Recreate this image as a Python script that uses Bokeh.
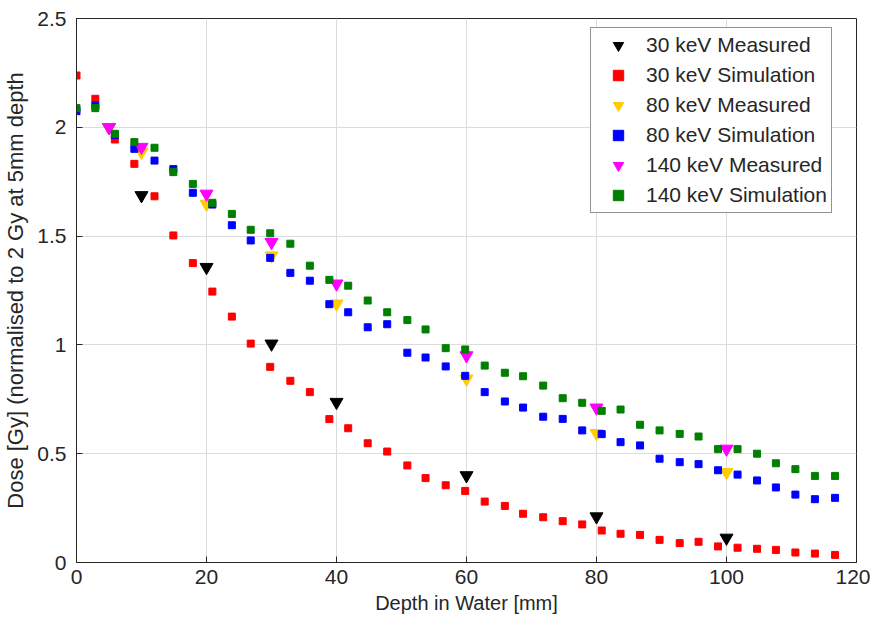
from bokeh.plotting import figure
from bokeh.models import Range1d, FixedTicker, Legend, LegendItem
from bokeh.embed import file_html
from bokeh.resources import INLINE

# ---- data ----
sim_depth = [0, 2.9, 5.9, 8.9, 12.0, 14.9, 17.9, 20.9, 23.9, 26.8,
             29.8, 32.9, 35.9, 38.9, 41.8, 44.8, 47.8, 50.9, 53.7, 56.8,
             59.8, 62.8, 65.9, 68.7, 71.8, 74.8, 77.8, 80.8, 83.7, 86.7,
             89.7, 92.8, 95.7, 98.7, 101.7, 104.7, 107.6, 110.6, 113.6, 116.7]

sim_30 = [2.238, 2.131, 1.944, 1.832, 1.683, 1.503, 1.376, 1.245, 1.130, 1.006,
          0.899, 0.835, 0.783, 0.659, 0.617, 0.548, 0.510, 0.446, 0.388, 0.355,
          0.329, 0.280, 0.260, 0.224, 0.208, 0.190, 0.175, 0.147, 0.132, 0.127,
          0.104, 0.089, 0.095, 0.074, 0.068, 0.063, 0.058, 0.046, 0.041, 0.035]

sim_80 = [2.074, 2.100, 1.965, 1.901, 1.847, 1.808, 1.699, 1.645, 1.550, 1.480,
          1.400, 1.331, 1.295, 1.187, 1.150, 1.081, 1.095, 0.964, 0.942, 0.901,
          0.858, 0.783, 0.740, 0.712, 0.670, 0.660, 0.607, 0.590, 0.553, 0.538,
          0.477, 0.461, 0.452, 0.424, 0.404, 0.377, 0.345, 0.312, 0.291, 0.297]

sim_140 = [2.088, 2.088, 1.970, 1.932, 1.906, 1.794, 1.740, 1.653, 1.602, 1.529,
           1.513, 1.465, 1.364, 1.299, 1.272, 1.204, 1.150, 1.114, 1.071, 0.985,
           0.979, 0.905, 0.872, 0.856, 0.813, 0.755, 0.734, 0.697, 0.703, 0.633,
           0.607, 0.591, 0.579, 0.521, 0.521, 0.500, 0.456, 0.429, 0.398, 0.398]

meas_depth = [5, 10, 20, 30, 40, 60, 80, 100]
meas_30 = [2.0, 1.687, 1.357, 1.005, 0.737, 0.400, 0.211, 0.113]
meas_80 = [2.0, 1.886, 1.648, 1.410, 1.189, 0.844, 0.594, 0.415]
meas_140 = [2.0, 1.909, 1.694, 1.472, 1.281, 0.951, 0.711, 0.522]

y_ticks = [0, 0.5, 1, 1.5, 2, 2.5]
y_tick_labels = ["0", "0.5", "1", "1.5", "2", "2.5"]
x_ticks = [0, 20, 40, 60, 80, 100, 120]

FONT = "Liberation Sans"
TXT = "#262626"

p = figure(width=870, height=624, output_backend="svg", toolbar_location=None,
           x_range=Range1d(0, 120), y_range=Range1d(0, 2.5),
           min_border_left=76, min_border_right=14, min_border_top=18,
           min_border_bottom=62,
           x_axis_label="Depth in Water [mm]",
           y_axis_label="Dose [Gy] (normalised to 2 Gy at 5mm depth")

p.background_fill_color = "white"
p.border_fill_color = "white"
p.outline_line_color = TXT
p.outline_line_width = 1

for ax in (p.xaxis[0], p.yaxis[0]):
    ax.axis_label_text_font = FONT
    ax.axis_label_text_font_style = "normal"
    ax.axis_label_text_color = TXT
    ax.major_label_text_font = FONT
    ax.major_label_text_font_size = "21px"
    ax.major_label_text_color = TXT
    ax.axis_line_color = TXT
    ax.major_tick_line_color = TXT
    ax.major_tick_in = 6
    ax.major_tick_out = 0
    ax.minor_tick_line_color = None

p.xaxis.axis_label_text_font_size = "20px"
p.yaxis.axis_label_text_font_size = "22px"
p.xaxis.ticker = FixedTicker(ticks=x_ticks)
p.yaxis.ticker = FixedTicker(ticks=y_ticks)
p.yaxis.major_label_overrides = {t: l for t, l in zip(y_ticks, y_tick_labels)}
p.xaxis.major_label_standoff = 7
p.yaxis.major_label_standoff = 10
p.xaxis.axis_label_standoff = 5
p.yaxis.axis_label_standoff = 6

p.grid.grid_line_color = "#dcdcdc"
p.grid.grid_line_width = 1

r1 = p.scatter(meas_depth, meas_30, marker="inverted_triangle", size=13,
               fill_color="black", line_color="black")
r2 = p.scatter(sim_depth, sim_30, marker="square", size=7,
               fill_color="#ff0000", line_color="#ff0000")
r3 = p.scatter(meas_depth, meas_80, marker="inverted_triangle", size=13,
               fill_color="#ffcc00", line_color="#ffcc00")
r4 = p.scatter(sim_depth, sim_80, marker="square", size=7,
               fill_color="#0000ff", line_color="#0000ff")
r5 = p.scatter(meas_depth, meas_140, marker="inverted_triangle", size=13,
               fill_color="#ff00ff", line_color="#ff00ff")
r6 = p.scatter(sim_depth, sim_140, marker="square", size=7,
               fill_color="#007f00", line_color="#007f00")

names = ["30 keV Measured", "30 keV Simulation", "80 keV Measured",
         "80 keV Simulation", "140 keV Measured", "140 keV Simulation"]
legend = Legend(items=[LegendItem(label=n, renderers=[r])
                       for n, r in zip(names, [r1, r2, r3, r4, r5, r6])],
                location=(514, 349))
legend.label_text_font = FONT
legend.label_text_font_size = "21px"
legend.label_text_color = TXT
legend.border_line_color = TXT
legend.border_line_width = 1
legend.background_fill_alpha = 1.0
legend.padding = 4
legend.spacing = 4
legend.margin = 0
legend.glyph_width = 46
legend.glyph_height = 26
legend.label_height = 26
legend.label_standoff = 5
p.add_layout(legend)

open("out.html", "w").write(file_html(p, INLINE))
